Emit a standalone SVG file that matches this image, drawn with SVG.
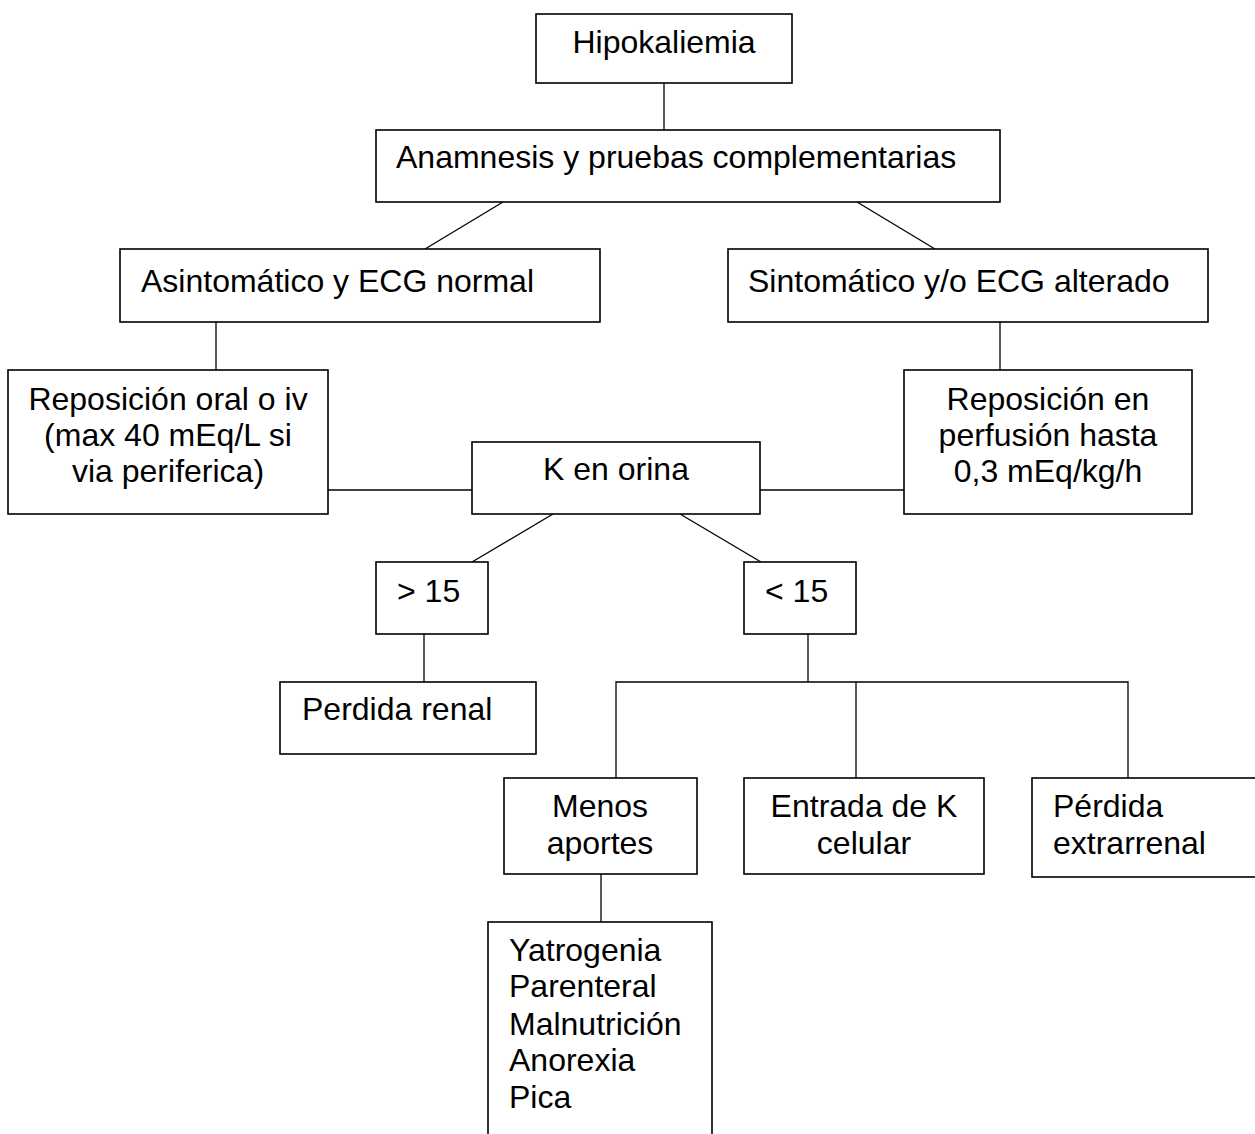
<svg xmlns="http://www.w3.org/2000/svg" width="1255" height="1134" viewBox="0 0 1255 1134">
<style>
.box{fill:#fff;stroke:#000;stroke-width:1.6}
.ln{stroke:#000;stroke-width:1.3;fill:none}
text{font-family:"Liberation Sans",Arial,sans-serif;font-size:32px;fill:#000}
.c{text-anchor:middle}
</style>
<rect width="1255" height="1134" fill="#fff"/>
<g id="connectors">
<line class="ln" x1="664" y1="83" x2="664" y2="130"/>
<line class="ln" x1="503" y1="202" x2="425" y2="249"/>
<line class="ln" x1="857" y1="202" x2="935" y2="249"/>
<line class="ln" x1="216" y1="322" x2="216" y2="370"/>
<line class="ln" x1="1000" y1="322" x2="1000" y2="370"/>
<line class="ln" x1="328" y1="490" x2="472" y2="490"/>
<line class="ln" x1="760" y1="490" x2="904" y2="490"/>
<line class="ln" x1="553" y1="514" x2="472" y2="562"/>
<line class="ln" x1="680" y1="514" x2="761" y2="562"/>
<line class="ln" x1="424" y1="634" x2="424" y2="682"/>
<line class="ln" x1="808" y1="634" x2="808" y2="682"/>
<polyline class="ln" points="616,778 616,682 1128,682 1128,778"/>
<line class="ln" x1="856" y1="682" x2="856" y2="778"/>
<line class="ln" x1="601" y1="874" x2="601" y2="922"/>
</g>
<g id="hipokaliemia"><rect class="box" x="536" y="14" width="256" height="69"/><text class="c" x="664" y="53">Hipokaliemia</text></g>
<g id="anamnesis"><rect class="box" x="376" y="130" width="624" height="72"/><text x="396" y="168">Anamnesis y pruebas complementarias</text></g>
<g id="asintomatico"><rect class="box" x="120" y="249" width="480" height="73"/><text x="141" y="292">Asintomático y ECG normal</text></g>
<g id="sintomatico"><rect class="box" x="728" y="249" width="480" height="73"/><text x="748" y="292">Sintomático y/o ECG alterado</text></g>
<g id="reposicion-oral"><rect class="box" x="8" y="370" width="320" height="144"/><text class="c" x="168" y="410">Reposición oral o iv</text><text class="c" x="168" y="446">(max 40 mEq/L si</text><text class="c" x="168" y="482">via periferica)</text></g>
<g id="reposicion-perfusion"><rect class="box" x="904" y="370" width="288" height="144"/><text class="c" x="1048" y="410">Reposición en</text><text class="c" x="1048" y="446">perfusión hasta</text><text class="c" x="1048" y="482">0,3 mEq/kg/h</text></g>
<g id="k-orina"><rect class="box" x="472" y="442" width="288" height="72"/><text class="c" x="616" y="480">K en orina</text></g>
<g id="mayor15"><rect class="box" x="376" y="562" width="112" height="72"/><text x="397" y="602">&gt; 15</text></g>
<g id="menor15"><rect class="box" x="744" y="562" width="112" height="72"/><text x="765" y="602">&lt; 15</text></g>
<g id="perdida-renal"><rect class="box" x="280" y="682" width="256" height="72"/><text x="302" y="720">Perdida renal</text></g>
<g id="menos-aportes"><rect class="box" x="504" y="778" width="193" height="96"/><text class="c" x="600" y="817">Menos</text><text class="c" x="600" y="854">aportes</text></g>
<g id="entrada-k"><rect class="box" x="744" y="778" width="240" height="96"/><text class="c" x="864" y="817">Entrada de K</text><text class="c" x="864" y="854">celular</text></g>
<g id="perdida-extrarrenal"><rect class="box" x="1032" y="778" width="240" height="99"/><text x="1053" y="817">Pérdida</text><text x="1053" y="854">extrarrenal</text></g>
<g id="causas"><rect class="box" x="488" y="922" width="224" height="230"/><text x="509" y="961">Yatrogenia</text><text x="509" y="997">Parenteral</text><text x="509" y="1035">Malnutrición</text><text x="509" y="1071">Anorexia</text><text x="509" y="1108">Pica</text></g>
</svg>
